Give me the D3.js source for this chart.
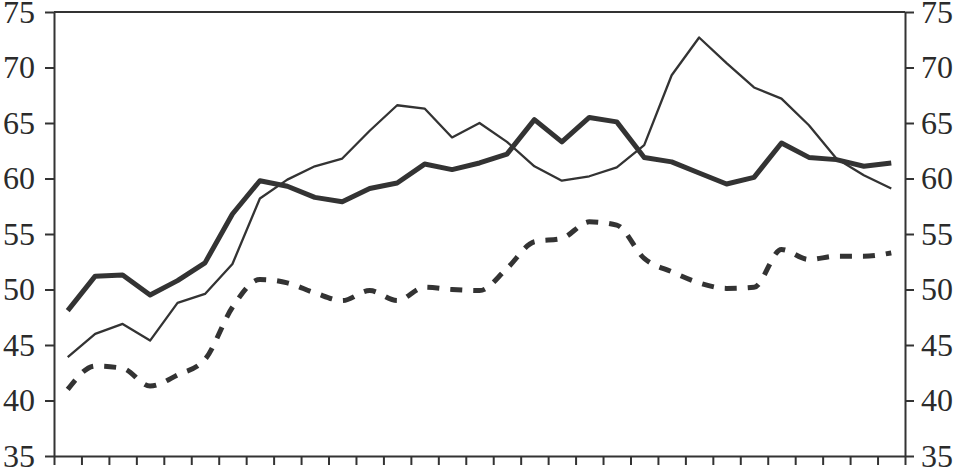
<!DOCTYPE html>
<html>
<head>
<meta charset="utf-8">
<script src="https://cdn.jsdelivr.net/npm/d3@7"></script>
<style>
  body { margin: 0; background: #fff; }
  svg { display: block; }
  .axis text { font-family: "Liberation Serif", "DejaVu Serif", serif; font-size: 32px; fill: #2b2b2b; }
  .axis path, .axis line { stroke: #333; stroke-width: 2px; }
</style>
</head>
<body>
<svg id="chart" width="958" height="471"></svg>
<script>
// 31 periods, values
let periods = d3.range(31)
let thickLine = [48.1, 51.2, 51.3, 49.5, 50.8, 52.4, 56.8, 59.8, 59.3, 58.3, 57.9,
  59.1, 59.6, 61.3, 60.8, 61.4, 62.2, 65.3, 63.3, 65.5, 65.1, 61.9, 61.5, 60.5,
  59.5, 60.1, 63.2, 61.9, 61.7, 61.1, 61.4]
let thinLine = [43.9, 46.0, 46.9, 45.4, 48.8, 49.6, 52.3, 58.2, 59.9, 61.1, 61.8,
  64.3, 66.6, 66.3, 63.7, 65.0, 63.3, 61.1, 59.8, 60.2, 61.0, 63.0, 69.3, 72.7,
  70.4, 68.2, 67.2, 64.8, 61.8, 60.3, 59.1]
let dashedLine = [41.0, 43.1, 42.9, 41.3, 42.3, 43.7, 48.4, 50.9, 50.6, 49.7, 49.0,
  49.9, 49.0, 50.2, 50.0, 49.9, 51.9, 54.3, 54.6, 56.1, 55.8, 52.8, 51.6, 50.6,
  50.1, 50.2, 53.6, 52.7, 53.0, 53.0, 53.3]
let yTicks = [35, 40, 45, 50, 55, 60, 65, 70, 75]

let svg = d3.select("#chart")
let plotLeft = 54, plotRight = 905, plotTop = 12, plotBottom = 456

let xScale = d3.scaleLinear().domain([0, periods.length]).range([plotLeft, plotRight])
let yScale = d3.scaleLinear().domain([35, 75]).range([plotBottom, plotTop])

// frame top line
svg.append("line")
  .attr("x1", plotLeft).attr("x2", plotRight)
  .attr("y1", yScale(75)).attr("y2", yScale(75))
  .style("stroke", "#333").style("stroke-width", 2)

let yAxisL = d3.axisLeft(yScale).tickValues(yTicks).tickSize(9).tickPadding(10).tickSizeOuter(0)
svg.append("g").attr("class", "axis")
  .attr("transform", `translate(${plotLeft},0)`)
  .call(yAxisL)

let yAxisR = d3.axisRight(yScale).tickValues(yTicks).tickSize(9).tickPadding(7).tickSizeOuter(0)
svg.append("g").attr("class", "axis")
  .attr("transform", `translate(${plotRight},0)`)
  .call(yAxisR)

let xAxis = d3.axisBottom(xScale).tickValues(d3.range(periods.length + 1))
  .tickSize(9).tickFormat("").tickSizeOuter(0)
svg.append("g").attr("class", "axis")
  .attr("transform", `translate(0,${plotBottom})`)
  .call(xAxis)

let line = d3.line()
  .x((d, i) => xScale(i + 0.5))
  .y(d => yScale(d))

svg.append("path").datum(thinLine)
  .attr("d", line)
  .style("fill", "none").style("stroke", "#333").style("stroke-width", 2.3)
  .style("stroke-linejoin", "round")

svg.append("path").datum(thickLine)
  .attr("d", line)
  .style("fill", "none").style("stroke", "#333").style("stroke-width", 5)
  .style("stroke-linejoin", "round")

let curvy = d3.line()
  .curve(d3.curveMonotoneX)
  .x((d, i) => xScale(i + 0.5))
  .y(d => yScale(d))

svg.append("path").datum(dashedLine)
  .attr("d", curvy)
  .style("fill", "none").style("stroke", "#333").style("stroke-width", 5)
  .style("stroke-dasharray", "12,11")
</script>
</body>
</html>
